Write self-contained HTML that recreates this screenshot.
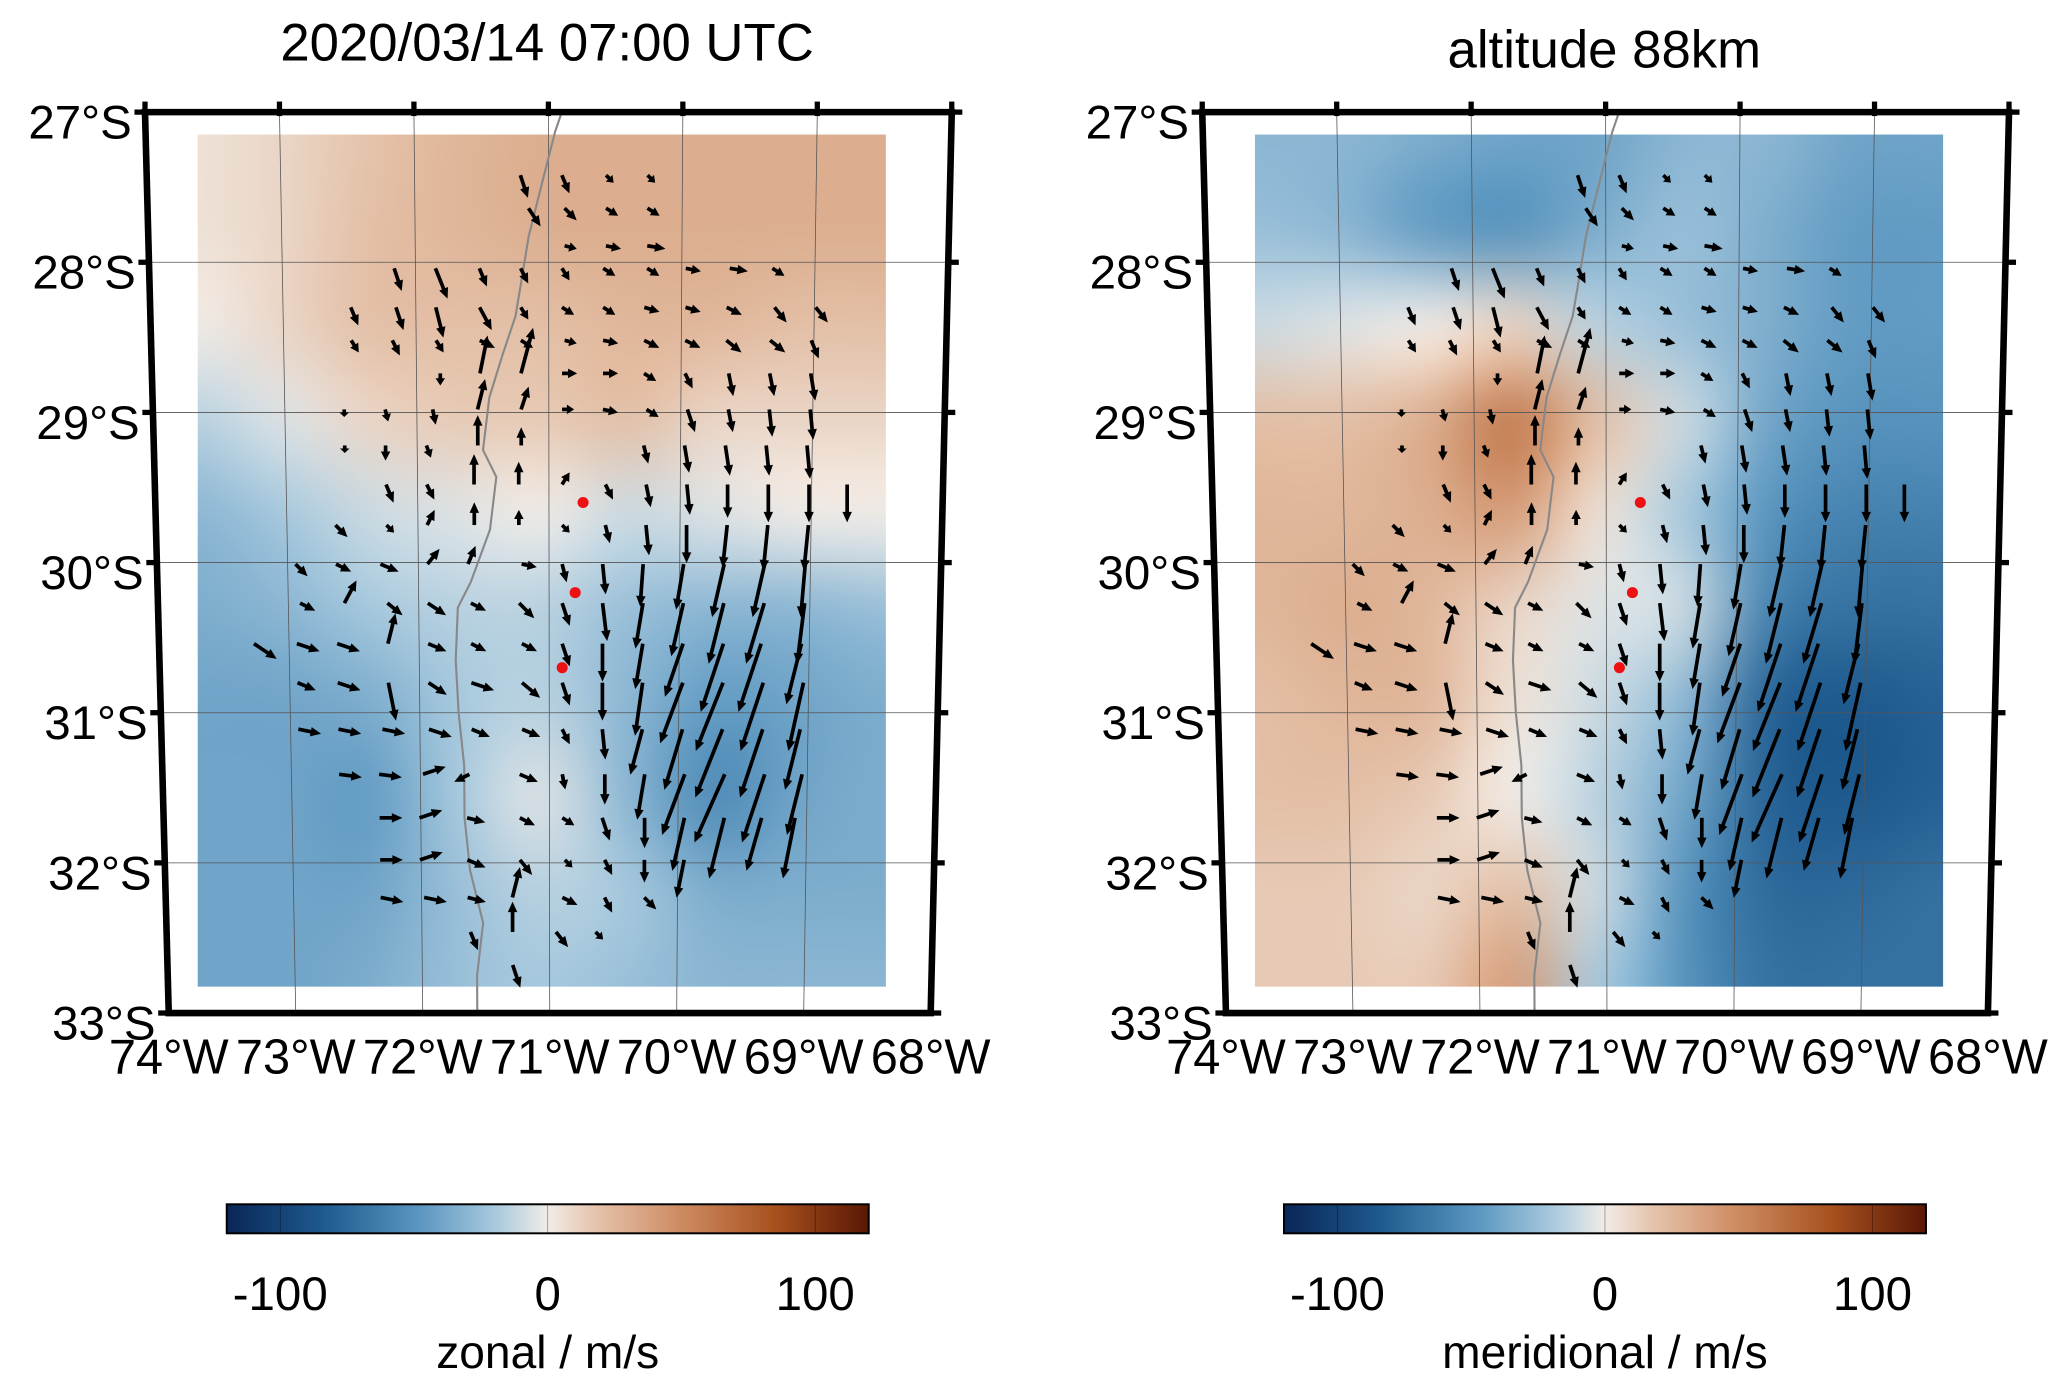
<!DOCTYPE html>
<html><head><meta charset="utf-8"><style>
html,body{margin:0;padding:0;background:#fff;width:2067px;height:1385px;overflow:hidden}
#wrap{position:relative;width:2067px;height:1385px}
svg{position:absolute;left:0;top:0}
</style></head><body>
<div id="wrap">
<svg id="svg" width="2067" height="1385" viewBox="0 0 1568 1050" preserveAspectRatio="none" xmlns="http://www.w3.org/2000/svg" font-family="Liberation Sans, Arial, sans-serif">
<defs>
<linearGradient id="cmap" x1="0" x2="1" y1="0" y2="0">
<stop offset="0" stop-color="#0a2657"/><stop offset="0.15" stop-color="#1e5a8e"/><stop offset="0.3" stop-color="#5a96c0"/>
<stop offset="0.42" stop-color="#a9cade"/><stop offset="0.5" stop-color="#f1ece7"/><stop offset="0.58" stop-color="#e4c1a8"/>
<stop offset="0.7" stop-color="#cf8e66"/><stop offset="0.85" stop-color="#a9521f"/><stop offset="1" stop-color="#5a1805"/>
</linearGradient>
</defs>
</svg>
</div>
<script>
// ---- data ----
const lonTicks=[74,73,72,71,70,69,68];
const latTicks=[27,28,29,30,31,32,33];
const cbTicks=[-100,0,100];
const gridCols=9, gridRows=10;
const zonal=[
[5,10,18,25,30,30,30,30,30],
[5,10,20,25,30,30,30,30,30],
[0,10,20,20,20,25,25,20,20],
[-15,-5,10,15,15,20,10,10,10],
[-30,-20,-10,-5,0,-10,-5,0,0],
[-35,-30,-20,-15,-15,-25,-30,-30,-25],
[-40,-40,-35,-20,-15,-30,-45,-40,-35],
[-40,-40,-45,-20,-5,-30,-55,-40,-35],
[-40,-40,-40,-25,-15,-20,-35,-35,-35],
[-40,-40,-35,-25,-20,-25,-30,-30,-30]];
const meridional=[
[-30,-30,-35,-40,-40,-30,-30,-40,-40],
[-25,-30,-45,-50,-35,-25,-35,-45,-45],
[-10,-5,0,10,-15,-25,-35,-45,-45],
[20,20,30,60,20,-10,-40,-50,-50],
[25,25,30,40,5,-20,-50,-60,-60],
[25,30,25,10,-5,-10,-60,-70,-70],
[20,25,25,5,-10,-30,-80,-85,-80],
[20,20,15,0,-15,-40,-80,-85,-80],
[15,15,10,20,-10,-50,-75,-75,-70],
[15,15,15,40,-20,-50,-70,-70,-70]];
const stations=[[70.74,29.6],[70.8,30.2],[70.9,30.7]];
const coastLon=[70.9,70.95,71.05,71.15,71.2,71.25,71.35,71.45,71.5,71.4,71.45,71.6,71.7,71.72,71.7,71.66,71.66,71.62,71.52,71.57,71.57];
const coastLat=[27.0,27.13,27.48,27.83,28.1,28.36,28.62,28.9,29.25,29.43,29.78,30.13,30.3,30.65,31.0,31.35,31.7,32.05,32.4,32.75,33.0];
// arrows: [lat, [lon,u,v, ...]]  (u east, v north)
const arrows=[
[27.42,[71.21,5,-15,70.90,5,-12,70.57,5,-5,70.26,5,-5]],
[27.64,[71.15,8,-12,70.88,8,-8,70.57,8,-5,70.26,8,-5]],
[27.89,[70.88,8,-2,70.57,10,-2,70.26,12,-2]],
[28.04,[72.16,5,-15,71.85,8,-20,71.52,5,-12,71.21,5,-10,70.90,5,-8,70.59,8,-5,70.26,8,-5,69.97,10,-2,69.64,12,-2,69.32,8,-5]],
[28.30,[72.49,5,-12,72.15,5,-15,71.85,5,-20,71.52,8,-15,71.21,5,-8,70.90,8,-5,70.59,8,-5,70.28,10,-3,69.97,10,-3,69.66,10,-5,69.30,8,-10,68.99,8,-10]],
[28.52,[72.49,5,-8,72.18,5,-10,71.85,5,-8,71.52,10,-5,71.21,8,-5,70.88,8,-2,70.59,10,-2,70.28,10,-5,69.97,10,-5,69.66,10,-8,69.33,10,-8,69.02,5,-12]],
[28.74,[71.82,0,-8,71.52,5,25,71.21,8,30,70.90,10,0,70.59,10,0,70.28,8,-5,69.97,5,-10,69.64,3,-15,69.33,3,-15,69.02,3,-18]],
[28.98,[72.55,0,-5,72.24,2,-8,71.88,2,-10,71.54,5,20,71.21,5,15,70.90,8,0,70.59,10,-2,70.26,8,-5,69.95,5,-15,69.64,3,-15,69.33,2,-18,69.02,2,-20]],
[29.22,[72.55,0,-5,72.24,0,-10,71.93,3,-8,71.54,0,20,71.21,0,12,70.59,0,0,70.28,3,-12,69.97,3,-18,69.66,3,-20,69.35,2,-20,69.04,2,-22]],
[29.48,[72.24,5,-12,71.93,5,-10,71.57,0,20,71.23,0,15,70.90,5,8,70.57,5,-10,70.26,3,-15,69.95,2,-20,69.64,0,-22,69.33,0,-25,69.02,0,-25,68.73,0,-25]],
[29.75,[72.63,8,-8,72.24,5,-5,71.93,5,10,71.57,0,15,71.23,0,10,70.90,5,-5,70.57,3,-12,70.26,2,-20,69.95,0,-25,69.64,-3,-28,69.33,-3,-30,69.02,-3,-30]],
[30.01,[72.94,8,-8,72.63,10,-5,72.29,12,-5,71.93,8,10,71.62,5,12,71.21,10,-2,70.90,3,-12,70.59,2,-20,70.28,-2,-28,69.97,-5,-30,69.66,-8,-35,69.35,-8,-35,69.04,-3,-35]],
[30.27,[72.91,10,-5,72.57,8,15,72.24,10,-8,71.93,12,-8,71.60,10,-5,71.23,10,-10,70.90,5,-15,70.59,3,-25,70.28,-5,-30,69.97,-8,-35,69.66,-10,-40,69.35,-12,-40,69.04,-5,-40]],
[30.54,[73.27,15,-10,72.94,15,-5,72.63,15,-5,72.24,5,20,71.93,12,-5,71.60,10,-5,71.21,10,-5,70.90,5,-15,70.59,0,-25,70.28,-5,-30,69.97,-12,-35,69.66,-15,-45,69.37,-15,-45,69.06,-10,-40]],
[30.80,[72.94,12,-5,72.63,15,-5,72.24,5,-25,71.93,12,-8,71.60,15,-5,71.21,12,-10,70.90,5,-15,70.59,0,-25,70.28,-5,-35,69.97,-15,-40,69.66,-18,-45,69.35,-15,-45,69.04,-10,-45]],
[31.11,[72.94,15,-3,72.63,15,-3,72.29,15,-3,71.93,15,-5,71.60,12,-5,71.21,12,-5,70.90,5,-10,70.59,2,-20,70.28,-8,-30,69.97,-12,-40,69.66,-18,-45,69.35,-15,-45,69.06,-10,-40]],
[31.41,[72.63,15,-2,72.32,15,-2,71.98,15,5,71.62,-10,-5,71.23,12,-5,70.90,2,-10,70.57,0,-20,70.26,-5,-30,69.95,-15,-40,69.64,-20,-45,69.33,-15,-45,69.04,-10,-40]],
[31.70,[72.32,15,0,72.01,15,5,71.64,12,-3,71.23,10,-5,70.90,8,-5,70.59,5,-15,70.26,0,-20,69.95,-8,-35,69.64,-10,-40,69.35,-10,-35,69.09,-8,-40]],
[31.98,[72.32,15,0,72.01,15,5,71.64,12,-5,71.23,8,-10,70.88,5,-5,70.57,5,-10,70.26,0,-15,69.95,-5,-25]],
[32.23,[72.32,15,-3,71.98,15,-3,71.64,12,-3,71.29,5,20,70.90,10,-5,70.57,5,-10,70.26,8,-8]],
[32.46,[71.62,5,-12,71.29,0,20,70.95,8,-10,70.64,5,-5]],
[32.68,[71.29,5,-15]]
];
// ---- rendering ----
const NS='http://www.w3.org/2000/svg';
const svg=document.getElementById('svg');
function mk(tag,attrs,parent){const e=document.createElementNS(NS,tag);for(const k in attrs)e.setAttribute(k,attrs[k]);(parent||svg).appendChild(e);return e;}
const TOP=85,BOT=768,ASCALE=1.15;
function yLat(lat){return TOP+(lat-27)*(BOT-TOP)/6;}
function xLon(lon,y,off){const t=(y-TOP)/(BOT-TOP);const xl=110+18*t,xr=722-16*t;return off+xl+(74-lon)/6*(xr-xl);}
const stops=[[-120,[10,38,87]],[-84,[30,90,142]],[-48,[90,150,192]],[-19,[169,202,222]],[0,[241,236,231]],[19,[228,193,168]],[48,[207,142,102]],[84,[169,82,31]],[120,[90,24,5]]];
function col(v){v=Math.max(-120,Math.min(120,v));for(let i=0;i<stops.length-1;i++){const a=stops[i],b=stops[i+1];if(v<=b[0]){const f=(v-a[0])/(b[0]-a[0]);return a[1].map((c,j)=>Math.round(c+f*(b[1][j]-c)));}}return stops[stops.length-1][1];}

function panel(off,field,title,titleX,titleY,cbLabel,name){
  const g=mk('g',{});
  
  
  const c=document.createElement('canvas');c.width=gridCols;c.height=gridRows;const ctx=c.getContext('2d');
  const id=ctx.createImageData(gridCols,gridRows);
  for(let r=0;r<gridRows;r++)for(let q=0;q<gridCols;q++){const k=(r*gridCols+q)*4;const cc=col(field[r][q]);id.data[k]=cc[0];id.data[k+1]=cc[1];id.data[k+2]=cc[2];id.data[k+3]=255;}
  ctx.putImageData(id,0,0);
  const big=document.createElement('canvas');big.width=522*2;big.height=646*2;const bx=big.getContext('2d');
  bx.imageSmoothingEnabled=true;bx.imageSmoothingQuality='high';
  const sx=big.width/(gridCols-1),sy=big.height/(gridRows-1);
  bx.drawImage(c,-sx/2,-sy/2,sx*gridCols,sy*gridRows);
  const im=mk('image',{x:off+150,y:102,width:522,height:646,preserveAspectRatio:'none',href:big.toDataURL()},g);
  
  
  lonTicks.forEach(l=>{const ln=mk('line',{x1:xLon(l,TOP,off),y1:TOP,x2:xLon(l,BOT,off),y2:BOT,stroke:'#555','stroke-width':0.6},g);
    });
  latTicks.forEach(l=>{const y=yLat(l);const ln=mk('line',{x1:xLon(74,y,off),y1:y,x2:xLon(68,y,off),y2:y,stroke:'#555','stroke-width':0.6},g);
    });
  let d='';coastLon.forEach((l,i)=>{const y=yLat(coastLat[i]);d+=(i?'L':'M')+xLon(l,y,off).toFixed(1)+' '+y.toFixed(1);});
  const cp=mk('path',{d:d,fill:'none',stroke:'#888','stroke-width':1.6},g);
  
  arrows.forEach(row=>{const lat=row[0],a=row[1];for(let i=0;i<a.length;i+=3){
    const y=yLat(lat),x=xLon(a[i],y,off),dx=a[i+1]*ASCALE,dy=-a[i+2]*ASCALE;
    const L=Math.hypot(dx,dy);if(L<0.5)continue;const ux=dx/L,uy=dy/L;
    const hx=x+dx,hy=y+dy,hl=Math.min(8,L*0.6),hw=3.6;
    const ag=mk('g',{},g);
    
    mk('line',{x1:x,y1:y,x2:hx-ux*hl*0.7,y2:hy-uy*hl*0.7,stroke:'#000','stroke-width':2.8},ag);
    mk('polygon',{points:`${hx},${hy} ${hx-ux*hl-uy*hw},${hy-uy*hl+ux*hw} ${hx-ux*hl+uy*hw},${hy-uy*hl-ux*hw}`,fill:'#000'},ag);
  }});
  stations.forEach(s=>{const y=yLat(s[1]);const ci=mk('circle',{cx:xLon(s[0],y,off),cy:y,r:4.2,fill:'#ee1111'},g);
    });
  const fr=mk('polygon',{points:`${off+110},${TOP} ${off+722},${TOP} ${off+706},${BOT} ${off+128},${BOT}`,fill:'none',stroke:'#000','stroke-width':5},g);
  
  lonTicks.forEach(l=>{const x=xLon(l,TOP,off);mk('line',{x1:x,y1:TOP-8,x2:x,y2:TOP+3,stroke:'#000','stroke-width':4},g);
    const xb=xLon(l,BOT,off);
    const t=mk('text',{x:xb,y:814,'font-size':37,'text-anchor':'middle',fill:'#000'},g);t.textContent=l+'°W';
    });
  latTicks.forEach(l=>{const y=yLat(l);const xl=xLon(74,y,off),xr=xLon(68,y,off);
    mk('line',{x1:xl-8,y1:y,x2:xl+2,y2:y,stroke:'#000','stroke-width':4},g);
    mk('line',{x1:xr-2,y1:y,x2:xr+8,y2:y,stroke:'#000','stroke-width':4},g);
    const t=mk('text',{x:xl-10,y:y+20,'font-size':36,'text-anchor':'end',fill:'#000'},g);t.textContent=l+'°S';
    });
  const tt=mk('text',{x:titleX,y:titleY,'font-size':40,'text-anchor':'middle',fill:'#000'},g);tt.textContent=title;
  
  const cbx=off+172,cbw=487;
  const cb=mk('rect',{x:cbx,y:913,width:cbw,height:22,fill:'url(#cmap)',stroke:'#000','stroke-width':1.5},g);
  
  cbTicks.forEach(v=>{const x=cbx+(v+120)/240*cbw;mk('line',{x1:x,y1:913,x2:x,y2:935,stroke:'#000','stroke-width':0.5,'stroke-opacity':0.5},g);
    const t=mk('text',{x:x,y:993,'font-size':36,'text-anchor':'middle',fill:'#000'},g);t.textContent=v;
    });
  const cl=mk('text',{x:cbx+cbw/2,y:1037,'font-size':35,'text-anchor':'middle',fill:'#000'},g);cl.textContent=cbLabel;
  
}
panel(0,zonal,'2020/03/14 07:00 UTC',415,46,'zonal / m/s','zonal');
panel(802,meridional,'altitude 88km',1217,51,'meridional / m/s','meridional');
</script>
</body></html>
